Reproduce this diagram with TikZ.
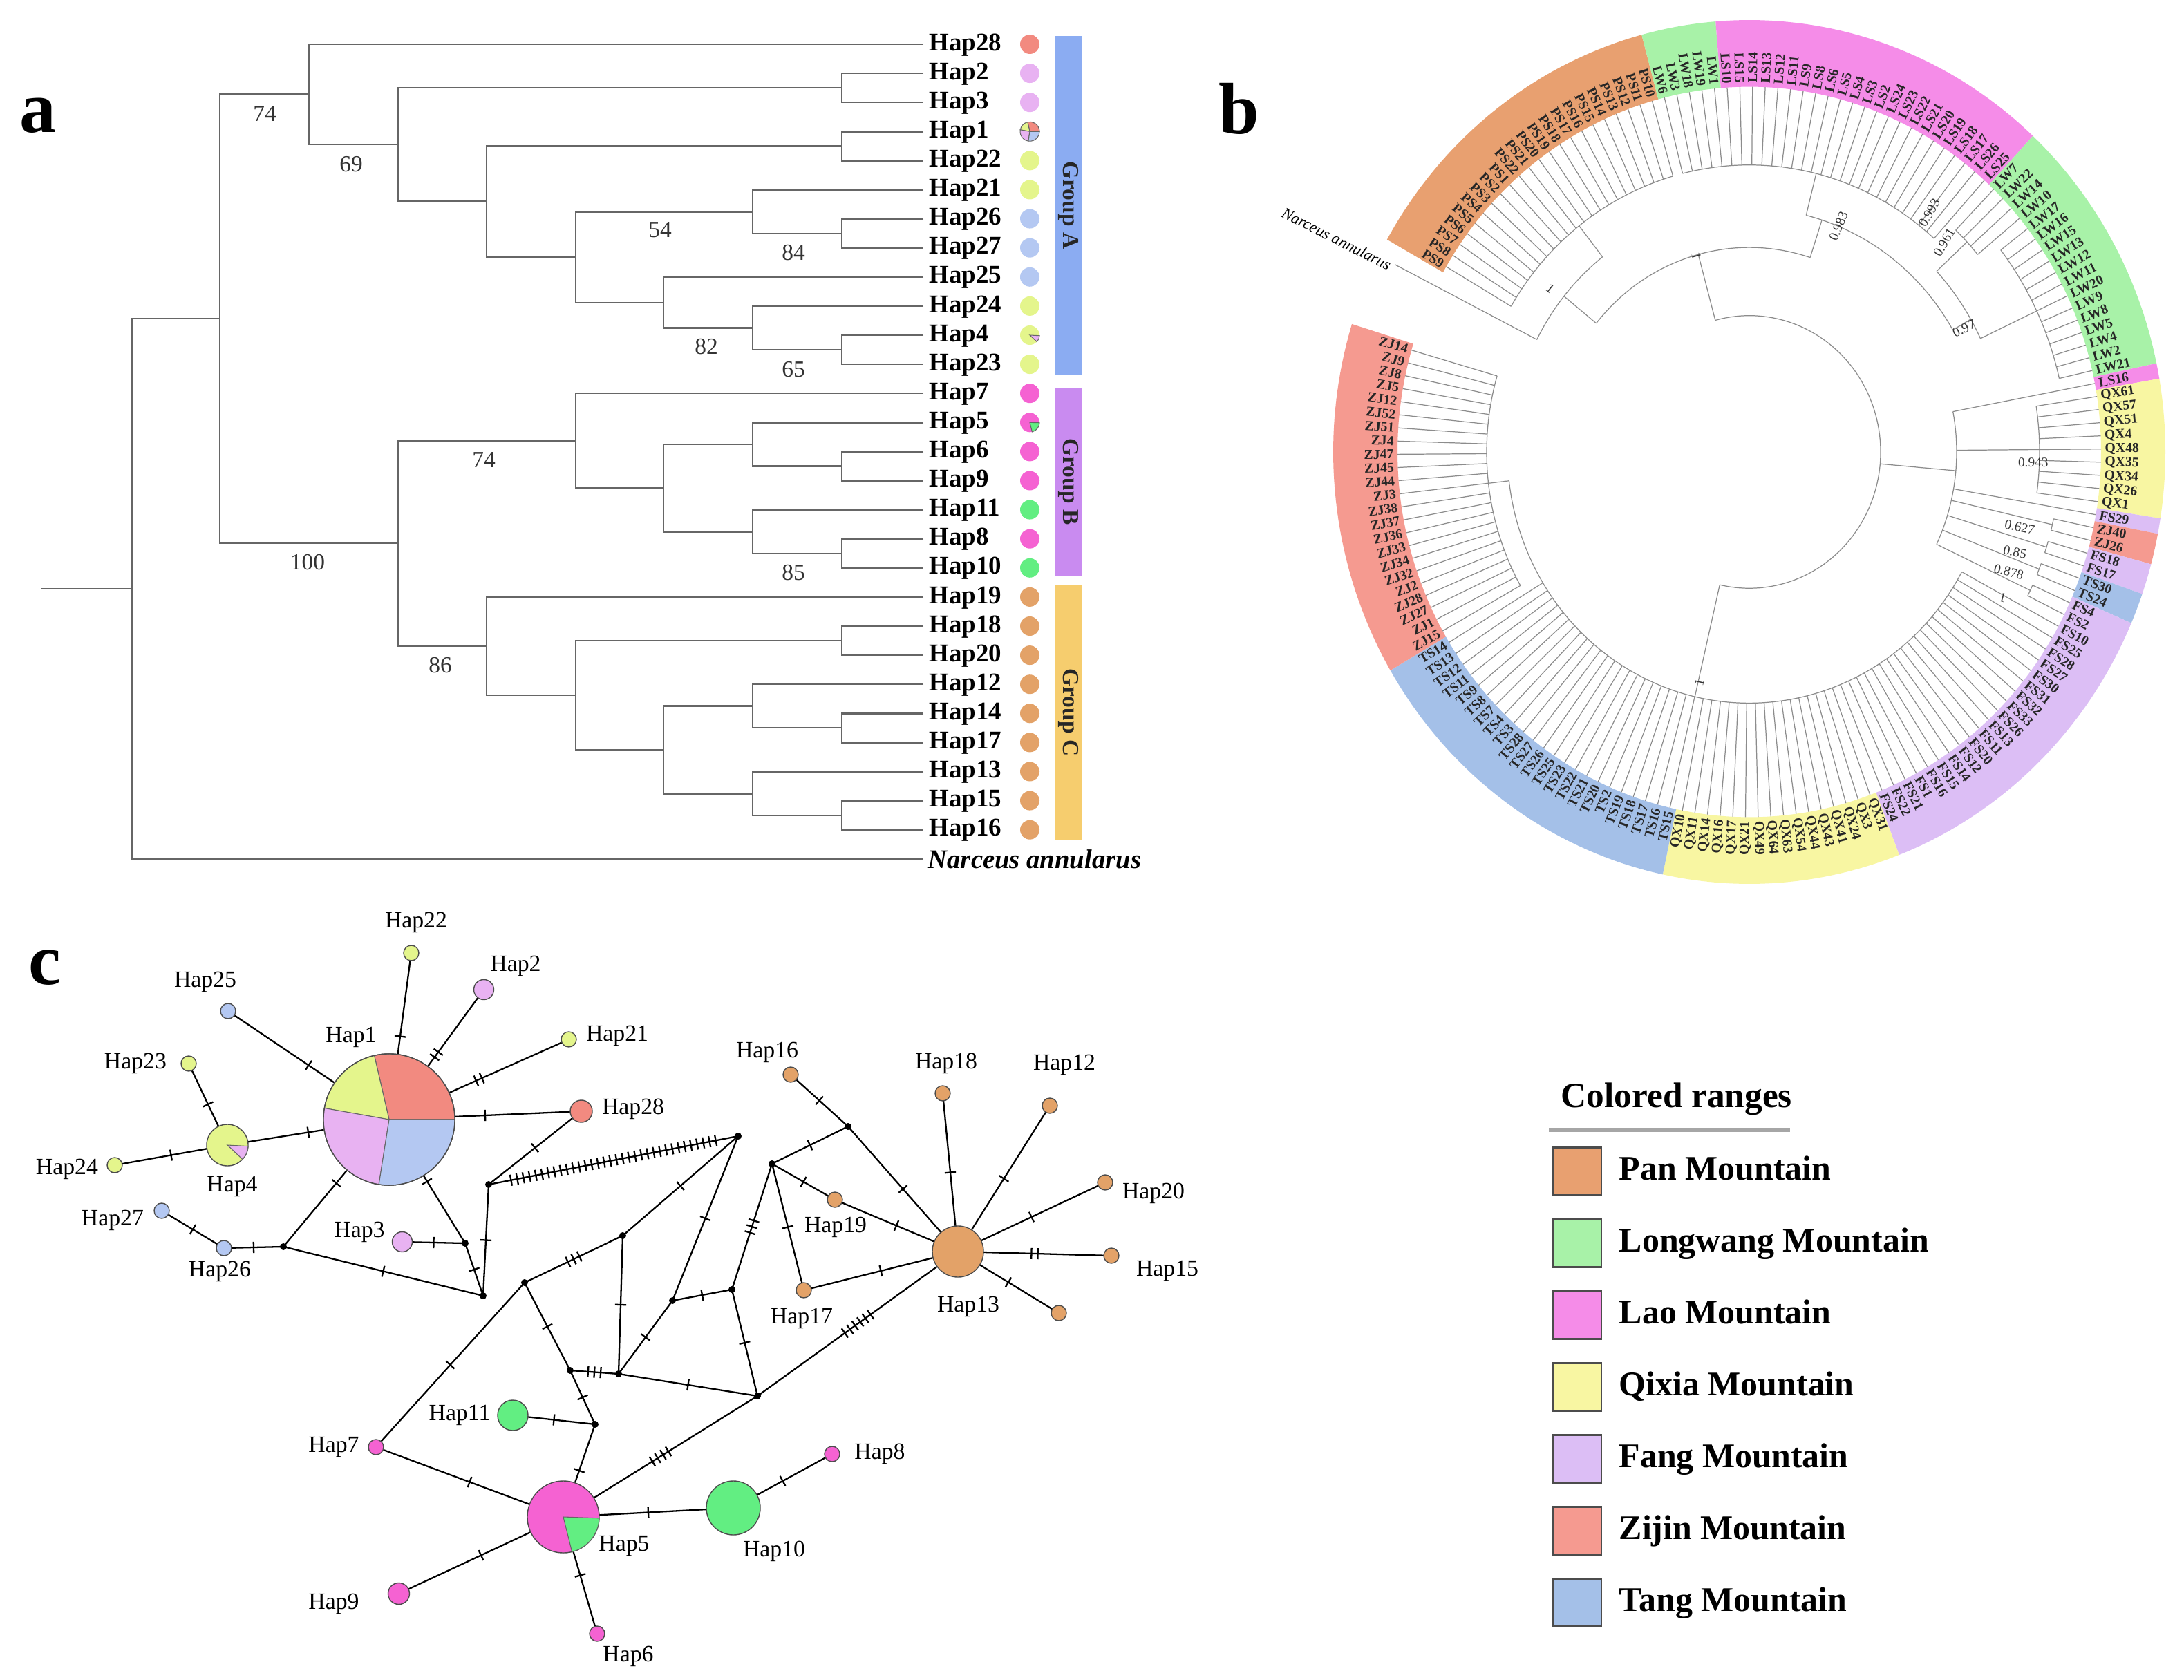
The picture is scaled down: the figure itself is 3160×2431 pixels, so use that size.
\documentclass[tikz,border=0pt]{standalone}
\usepackage{fontspec}
\setmainfont{Liberation Serif}
\usetikzlibrary{calc,backgrounds}

\definecolor{pan}{HTML}{E8A070}
\definecolor{lw}{HTML}{A8F2A8}
\definecolor{lao}{HTML}{F58CE8}
\definecolor{qx}{HTML}{F8F6A2}
\definecolor{fang}{HTML}{DCBEF5}
\definecolor{zj}{HTML}{F59A90}
\definecolor{tang}{HTML}{A4C0E8}
\definecolor{hred}{HTML}{F28A80}
\definecolor{hviol}{HTML}{E8B2F2}
\definecolor{hyel}{HTML}{E4F58C}
\definecolor{hblue}{HTML}{B4C8F2}
\definecolor{hpink}{HTML}{F562D2}
\definecolor{hgreen}{HTML}{62EE82}
\definecolor{horange}{HTML}{E3A268}
\definecolor{grpA}{HTML}{8BACF2}
\definecolor{grpB}{HTML}{C98BF0}
\definecolor{grpC}{HTML}{F6CD6E}

\tikzset{
  branch/.style={draw=black!60, line width=0.7pt},
  leaflab/.style={font=\bfseries\fontsize{10.5}{12}\selectfont, inner sep=0pt, text height=7.5pt, text depth=2.3pt},
  boot/.style={font=\fontsize{9.5}{11}\selectfont, text=black!80, inner sep=0pt},
  tipdot/.style={circle, minimum size=0.28cm, inner sep=0pt},
  grpbar/.style={minimum height=0.39cm, inner sep=0pt, rotate=-90, font=\bfseries\fontsize{9.5}{11}\selectfont, text=black!85},
  bline/.style={draw=black!45, line width=0.35pt},
  ringlab/.style={font=\bfseries\fontsize{5.6}{5.6}\selectfont, inner sep=0pt, text=black!85},
  support/.style={font=\fontsize{5.5}{6}\selectfont, inner sep=0pt, text=black!80},
  hap/.style={circle, draw=black!70, line width=0.4pt, inner sep=0pt, minimum size=0.22cm},
  junc/.style={circle, fill=black, inner sep=0pt, minimum size=0.1cm},
  link/.style={draw=black, line width=0.65pt},
  haplab/.style={font=\fontsize{9.6}{11}\selectfont, inner sep=0pt},
  swatch/.style={draw=black!70, line width=0.6pt, minimum width=0.7cm, minimum height=0.69cm, inner sep=0pt},
  legtext/.style={font=\bfseries\fontsize{14.2}{16}\selectfont, inner sep=0pt, text height=10pt, text depth=3pt},
  panel/.style={font=\bfseries\fontsize{30}{32}\selectfont, inner sep=0pt}
}

% elbow from a tree node to its two children
\newcommand\cladeline[3]{\draw[branch] (#2) -| (#1) |- (#3);}
% ring pieces of the circular tree
\newcommand\ringband[3]{%
  \pgfmathsetmacro\ba{149.5-2.07*#1+1.035}\pgfmathsetmacro\bb{149.5-2.07*#2-1.035}%
  \fill[#3] (\ba:509) arc[start angle=\ba, end angle=\bb, radius=509] -- (\bb:602) arc[start angle=\bb, end angle=\ba, radius=602] -- cycle;}
\newcommand\cladearc[3]{\draw[bline] (#2:#1) arc[start angle=#2, end angle=#3, radius=#1];}
\newcommand\radstem[3]{\draw[bline] (#1:#2) -- (#1:#3);}
% pie pieces
\newcommand\piewedge[5]{\filldraw[fill=#5, draw=black!60, line width=0.3pt] (#1) -- ++(#3:#2) arc[start angle=#3, end angle=#4, radius=#2] -- cycle;}
% network link with mutation ticks
\newcommand\mutlink[3]{%
  \draw[link] (#1.center) -- (#2.center);
  \foreach \m in {1,...,#3}{%
    \pgfmathsetmacro\off{(\m-(#3+1)/2)*2.6}%
    \coordinate (mk) at ($(#1.center)!0.5!(#2.center)$);
    \coordinate (mm) at ($(mk)!\off pt!(#2.center)$);
    \draw[link] ($(mm)!2.3pt!90:(#2.center)$) -- ($(mm)!2.3pt!-90:(#2.center)$);
  }%
}

\begin{document}
\begin{tikzpicture}[x=0.01cm, y=-0.01cm]
\useasboundingbox (0,0) rectangle (3160,2431);
\begin{scope}[on background layer]
  \fill[white] (0,0) rectangle (3160,2431);
\end{scope}

%% ---------------- panel a ----------------
\node[panel] (pa) at (55,167) {a};

\foreach \hname/\hcol [count=\k from 0] in {Hap28/hred, Hap2/hviol, Hap3/hviol, Hap1/white, Hap22/hyel, Hap21/hyel, Hap26/hblue, Hap27/hblue, Hap25/hblue, Hap24/hyel, Hap4/hyel, Hap23/hyel, Hap7/hpink, Hap5/hpink, Hap6/hpink, Hap9/hpink, Hap11/hgreen, Hap8/hpink, Hap10/hgreen, Hap19/horange, Hap18/horange, Hap20/horange, Hap12/horange, Hap14/horange, Hap17/horange, Hap13/horange, Hap15/horange, Hap16/horange}{
  \pgfmathsetmacro\yy{64+42.1*\k}
  \coordinate (t\hname) at (1336,\yy);
  \node[leaflab, anchor=west] (l\hname) at (1344,\yy) {\hname};
  \node[tipdot, fill=\hcol] (d\hname) at (1490,\yy) {};
}
\coordinate (tNarc) at (1336,1243);
\node[anchor=west, inner sep=0pt, font=\bfseries\itshape\fontsize{11}{13}\selectfont] (lNarc) at (1342,1243) {Narceus annularus};

% small pies
\piewedge{dHap1.center}{0.14cm}{0}{103}{hred}
\piewedge{dHap1.center}{0.14cm}{103}{170}{hyel}
\piewedge{dHap1.center}{0.14cm}{170}{261}{hviol}
\piewedge{dHap1.center}{0.14cm}{261}{360}{hblue}
\piewedge{dHap4.center}{0.14cm}{-43}{-3}{hviol}
\piewedge{dHap5.center}{0.14cm}{-76}{-2}{hgreen}

% internal nodes
\coordinate (a23) at (1218,127);
\coordinate (a122) at (1218,211);
\coordinate (a2627) at (1218,338);
\coordinate (a21) at (1089,306.5);
\coordinate (a423) at (1218,506);
\coordinate (a24) at (1089,474.5);
\coordinate (a25) at (960,437.75);
\coordinate (a54) at (833,372);
\coordinate (a1) at (704,291.5);
\coordinate (a69) at (576,209.25);
\coordinate (a74) at (447,136.6);
\coordinate (b69) at (1218,674.5);
\coordinate (b5) at (1089,642.75);
\coordinate (b810) at (1218,801);
\coordinate (b11) at (1089,769.5);
\coordinate (b2) at (960,706);
\coordinate (b74) at (833,637.5);
\coordinate (c1820) at (1218,927);
\coordinate (c1417) at (1218,1053);
\coordinate (c12) at (1089,1021.5);
\coordinate (c1516) at (1218,1180);
\coordinate (c13) at (1089,1148.5);
\coordinate (c3) at (960,1085);
\coordinate (c2) at (833,1006);
\coordinate (c86) at (704,935);
\coordinate (bc) at (576,786);
\coordinate (ing) at (318,461);
\coordinate (root) at (191,852);
\coordinate (rootin) at (60,852);

\cladeline{a23}{tHap2}{tHap3}
\cladeline{a122}{tHap1}{tHap22}
\cladeline{a2627}{tHap26}{tHap27}
\cladeline{a21}{tHap21}{a2627}
\cladeline{a423}{tHap4}{tHap23}
\cladeline{a24}{tHap24}{a423}
\cladeline{a25}{tHap25}{a24}
\cladeline{a54}{a21}{a25}
\cladeline{a1}{a122}{a54}
\cladeline{a69}{a23}{a1}
\cladeline{a74}{tHap28}{a69}
\cladeline{b69}{tHap6}{tHap9}
\cladeline{b5}{tHap5}{b69}
\cladeline{b810}{tHap8}{tHap10}
\cladeline{b11}{tHap11}{b810}
\cladeline{b2}{b5}{b11}
\cladeline{b74}{tHap7}{b2}
\cladeline{c1820}{tHap18}{tHap20}
\cladeline{c1417}{tHap14}{tHap17}
\cladeline{c12}{tHap12}{c1417}
\cladeline{c1516}{tHap15}{tHap16}
\cladeline{c13}{tHap13}{c1516}
\cladeline{c3}{c12}{c13}
\cladeline{c2}{c1820}{c3}
\cladeline{c86}{tHap19}{c2}
\cladeline{bc}{b74}{c86}
\cladeline{ing}{a74}{bc}
\cladeline{root}{ing}{tNarc}
\draw[branch] (rootin) -- (root);

% bootstrap values
\node[boot] (s74a) at (383,165) {74};
\node[boot] (s69) at (508,238) {69};
\node[boot] (s54) at (955,333) {54};
\node[boot] (s84) at (1148,366) {84};
\node[boot] (s82) at (1022,502) {82};
\node[boot] (s65) at (1148,535) {65};
\node[boot] (s74b) at (700,666) {74};
\node[boot] (s85) at (1148,829) {85};
\node[boot] (s100) at (445,814) {100};
\node[boot] (s86) at (637,963) {86};

% group bars
\node[grpbar, fill=grpA, minimum width=4.9cm] (gA) at (1546,297) {Group A};
\node[grpbar, fill=grpB, minimum width=2.72cm] (gB) at (1546,697) {Group B};
\node[grpbar, fill=grpC, minimum width=3.69cm] (gC) at (1546,1031) {Group C};

%% ---------------- panel b ----------------
\node[panel] (pb) at (1793,157) {b};
\begin{scope}[shift={(2531,654)}, x=0.01cm, y=0.01038cm]
  \ringband{0}{21}{pan}
  \ringband{22}{26}{lw}
  \ringband{27}{49}{lao}
  \ringband{50}{66}{lw}
  \ringband{67}{67}{lao}
  \ringband{68}{76}{qx}
  \ringband{77}{77}{fang}
  \ringband{78}{79}{zj}
  \ringband{80}{81}{fang}
  \ringband{82}{83}{tang}
  \ringband{84}{105}{fang}
  \ringband{106}{121}{qx}
  \ringband{122}{144}{tang}
  \ringband{145}{167}{zj}

  % backbone
  \cladearc{190}{105}{-103}
  \radstem{105}{190}{285}
  \cladearc{285}{141}{72}
  \radstem{141}{285}{345}
  \cladearc{345}{153}{128}
  \radstem{153}{345}{575}
  \radstem{128}{345}{400}
  \cladearc{400}{149.5}{106.03}
  \radstem{72}{285}{340}
  \cladearc{340}{76}{30}
  \radstem{76}{340}{400}
  \cladearc{400}{103.96}{48.07}
  \radstem{30}{340}{370}
  \cladearc{370}{42.9}{25.3}
  \radstem{42.9}{370}{430}
  \cladearc{430}{46}{39.79}
  \radstem{25.3}{370}{460}
  \cladearc{460}{37.72}{12.88}
  \radstem{-5}{190}{300}
  \cladearc{300}{10.81}{-25.4}
  \radstem{0.46}{300}{420}
  \cladearc{420}{8.74}{-7.82}
  \foreach \pa in {-13,-17.14,-21.28,-25.4}{
    \radstem{\pa}{300}{450}
    \cladearc{450}{\pa+1.035}{\pa-1.035}
  }
  \radstem{-103}{190}{350}
  \cladearc{350}{-28.52}{-173.4}
  \radstem{-173.4}{350}{380}
  \cladearc{380}{-150.65}{-196.19}

  % leaves
  \foreach \lab/\rin [count=\i from 0] in {PS9/400, PS8/400, PS7/400, PS6/400, PS5/400, PS4/400, PS3/400, PS2/400, PS1/400, PS22/400, PS21/400, PS20/400, PS19/400, PS18/400, PS17/400, PS16/400, PS15/400, PS14/400, PS13/400, PS12/400, PS11/400, PS10/400,
    LW6/400, LW3/400, LW18/400, LW19/400, LW1/400,
    LS10/400, LS15/400, LS14/400, LS13/400, LS12/400, LS11/400, LS9/400, LS8/400, LS6/400, LS5/400, LS4/400, LS3/400, LS2/400, LS24/400, LS23/400, LS22/400, LS21/400, LS20/400, LS19/400, LS18/400, LS17/400, LS26/400, LS25/400,
    LW7/430, LW22/430, LW14/430, LW10/430,
    LW17/460, LW16/460, LW15/460, LW13/460, LW12/460, LW11/460, LW20/460, LW9/460, LW8/460, LW5/460, LW4/460, LW2/460, LW21/460,
    LS16/300,
    QX61/420, QX57/420, QX51/420, QX4/420, QX48/420, QX35/420, QX34/420, QX26/420, QX1/420,
    FS29/300,
    ZJ40/450, ZJ26/450, FS18/450, FS17/450, TS30/450, TS24/450, FS4/450, FS2/450,
    FS10/350, FS25/350, FS28/350, FS27/350, FS30/350, FS31/350, FS32/350, FS33/350, FS26/350, FS13/350, FS11/350, FS20/350, FS12/350, FS14/350, FS15/350, FS16/350, FS1/350, FS21/350, FS22/350, FS24/350,
    QX31/350, QX3/350, QX24/350, QX41/350, QX43/350, QX44/350, QX54/350, QX63/350, QX64/350, QX49/350, QX21/350, QX17/350, QX16/350, QX14/350, QX11/350, QX10/350,
    TS15/350, TS16/350, TS17/350, TS18/350, TS19/350, TS2/350, TS20/350, TS21/350, TS22/350, TS23/350, TS25/350, TS26/350, TS27/350, TS28/350, TS3/350, TS4/350, TS7/350, TS8/350, TS9/350, TS11/350, TS12/350, TS13/350, TS14/350,
    ZJ15/380, ZJ1/380, ZJ27/380, ZJ28/380, ZJ2/380, ZJ32/380, ZJ34/380, ZJ33/380, ZJ36/380, ZJ37/380, ZJ38/380, ZJ3/380, ZJ44/380, ZJ45/380, ZJ47/380, ZJ4/380, ZJ51/380, ZJ52/380, ZJ12/380, ZJ5/380, ZJ8/380, ZJ9/380, ZJ14/380}{
    \pgfmathsetmacro\ang{149.5-2.07*\i}
    \pgfmathtruncatemacro\flip{cos(\ang)<0}
    \draw[bline] (\ang:\rin) -- (\ang:509);
    \ifnum\flip=1
      \node[ringlab, rotate=\ang+180, anchor=east] (rl\i) at (\ang:514) {\lab};
    \else
      \node[ringlab, rotate=\ang, anchor=west] (rl\i) at (\ang:514) {\lab};
    \fi
  }
  \node[anchor=east, rotate=-27, inner sep=0pt, font=\itshape\fontsize{6.5}{7}\selectfont] (bNarc) at (153.5:580) {Narceus annularus};

  % support values
  \node[support, rotate=-38.3] (v1a) at (141.7:367) {1};
  \node[support, rotate=-74.4] (v1b) at (105.6:284) {1};
  \node[support, rotate=67.7] (v983) at (67.7:340) {0.983};
  \node[support, rotate=60] (v993) at (52:423) {0.993};
  \node[support, rotate=60] (v961) at (46:406) {0.961};
  \node[support, rotate=25] (v97) at (29:355) {0.97};
  \node[support] (v943) at (-2:411) {0.943};
  \node[support, rotate=-12] (v627) at (-15:405) {0.627};
  \node[support, rotate=-12] (v85) at (-20:409) {0.85};
  \node[support, rotate=-14] (v878) at (-24:411) {0.878};
  \node[support, rotate=-16] (v1c) at (-29:419) {1};
  \node[support, rotate=77.3] (v1d) at (-102.7:329) {1};
\end{scope}

%% ---------------- panel c ----------------
\node[panel] (pc) at (65,1400) {c};

\node[hap, minimum size=1.9cm] (Hap1) at (563,1620) {};
\node[hap, fill=hyel] (Hap22) at (595,1379) {};
\node[hap, fill=hviol, minimum size=0.29cm] (Hap2) at (700,1432) {};
\node[hap, fill=hblue] (Hap25) at (330,1463) {};
\node[hap, fill=hyel] (Hap21) at (823,1504) {};
\node[hap, fill=hred, minimum size=0.32cm] (Hap28) at (841,1608) {};
\node[hap, fill=hyel] (Hap23) at (273,1539) {};
\node[hap, fill=hyel, minimum size=0.6cm] (Hap4) at (329,1657) {};
\node[hap, fill=hyel] (Hap24) at (166,1686) {};
\node[hap, fill=hblue] (Hap27) at (234,1752) {};
\node[hap, fill=hblue] (Hap26) at (324,1806) {};
\node[hap, fill=hviol, minimum size=0.29cm] (Hap3) at (582,1797) {};
\node[hap, fill=hgreen, minimum size=0.44cm] (Hap11) at (742,2048) {};
\node[hap, fill=hpink] (Hap7) at (544,2094) {};
\node[hap, fill=hpink, minimum size=1.04cm] (Hap5) at (815,2195) {};
\node[hap, fill=hpink, minimum size=0.31cm] (Hap9) at (577,2306) {};
\node[hap, fill=hpink] (Hap6) at (864,2364) {};
\node[hap, fill=horange] (Hap16) at (1144,1555) {};
\node[hap, fill=horange] (Hap19) at (1208,1736) {};
\node[hap, fill=horange] (Hap17) at (1163,1867) {};
\node[hap, fill=horange, minimum size=0.74cm] (Hap13) at (1386,1811) {};
\node[hap, fill=horange] (Hap18) at (1364,1582) {};
\node[hap, fill=horange] (Hap12) at (1519,1600) {};
\node[hap, fill=horange] (Hap20) at (1599,1711) {};
\node[hap, fill=horange] (Hap15) at (1608,1817) {};
\node[hap, fill=horange] (Hapx) at (1532,1900) {};
\node[hap, fill=hgreen, minimum size=0.78cm] (Hap10) at (1061,2182) {};
\node[hap, fill=hpink] (Hap8) at (1204,2104) {};

\node[junc] (J1) at (410,1804) {};
\node[junc] (J2) at (673,1799) {};
\node[junc] (J3) at (699,1875) {};
\node[junc] (J4) at (707,1714) {};
\node[junc] (J5) at (1068,1644) {};
\node[junc] (J6) at (901,1788) {};
\node[junc] (J7) at (759,1856) {};
\node[junc] (J8) at (825,1983) {};
\node[junc] (J9) at (895,1988) {};
\node[junc] (J10) at (973,1882) {};
\node[junc] (J11) at (861,2061) {};
\node[junc] (J12) at (1227,1630) {};
\node[junc] (J13) at (1117,1684) {};
\node[junc] (J15) at (1059,1866) {};
\node[junc] (J16) at (1096,2020) {};

% pies
\piewedge{Hap1.center}{0.95cm}{0}{103}{hred}
\piewedge{Hap1.center}{0.95cm}{103}{170}{hyel}
\piewedge{Hap1.center}{0.95cm}{170}{261}{hviol}
\piewedge{Hap1.center}{0.95cm}{261}{360}{hblue}
\draw[draw=black!70, line width=0.4pt] (Hap1.center) circle[radius=0.95cm];
\piewedge{Hap4.center}{0.3cm}{-43}{-3}{hviol}
\piewedge{Hap5.center}{0.52cm}{-76}{-2}{hgreen}

% haplotype names
\node[haplab] (n1) at (508,1501) {Hap1};
\node[haplab] (n22) at (602,1335) {Hap22};
\node[haplab] (n2) at (746,1398) {Hap2};
\node[haplab] (n25) at (297,1421) {Hap25};
\node[haplab] (n21) at (893,1499) {Hap21};
\node[haplab] (n28) at (916,1605) {Hap28};
\node[haplab] (n23) at (196,1539) {Hap23};
\node[haplab] (n4) at (336,1717) {Hap4};
\node[haplab] (n24) at (97,1692) {Hap24};
\node[haplab] (n27) at (163,1766) {Hap27};
\node[haplab] (n26) at (318,1840) {Hap26};
\node[haplab] (n3) at (520,1783) {Hap3};
\node[haplab] (n11) at (665,2048) {Hap11};
\node[haplab] (n7) at (483,2094) {Hap7};
\node[haplab] (n5) at (903,2237) {Hap5};
\node[haplab] (n9) at (483,2321) {Hap9};
\node[haplab] (n6) at (909,2397) {Hap6};
\node[haplab] (n16) at (1110,1523) {Hap16};
\node[haplab] (n19) at (1209,1776) {Hap19};
\node[haplab] (n17) at (1160,1908) {Hap17};
\node[haplab] (n13) at (1401,1891) {Hap13};
\node[haplab] (n18) at (1369,1539) {Hap18};
\node[haplab] (n12) at (1540,1541) {Hap12};
\node[haplab] (n20) at (1669,1727) {Hap20};
\node[haplab] (n15) at (1689,1839) {Hap15};
\node[haplab] (n10) at (1120,2245) {Hap10};
\node[haplab] (n8) at (1273,2104) {Hap8};

\begin{scope}[on background layer]
  \mutlink{Hap1}{Hap22}{1}
  \mutlink{Hap1}{Hap2}{2}
  \mutlink{Hap1}{Hap21}{2}
  \mutlink{Hap1}{Hap28}{1}
  \mutlink{Hap1}{Hap25}{1}
  \mutlink{Hap1}{Hap4}{1}
  \mutlink{Hap4}{Hap23}{1}
  \mutlink{Hap4}{Hap24}{1}
  \mutlink{Hap1}{J1}{1}
  \mutlink{J1}{Hap26}{1}
  \mutlink{Hap26}{Hap27}{1}
  \mutlink{J1}{J3}{1}
  \mutlink{Hap1}{J2}{1}
  \mutlink{Hap3}{J2}{1}
  \mutlink{J2}{J3}{1}
  \mutlink{J3}{J4}{1}
  \mutlink{J4}{Hap28}{1}
  \mutlink{J4}{J5}{34}
  \mutlink{J5}{J6}{1}
  \mutlink{J5}{J10}{1}
  \mutlink{J6}{J7}{3}
  \mutlink{J6}{J9}{1}
  \mutlink{J7}{Hap7}{1}
  \mutlink{J7}{J8}{1}
  \mutlink{J8}{J9}{3}
  \mutlink{J8}{J11}{1}
  \mutlink{J9}{J10}{1}
  \mutlink{J9}{J16}{1}
  \mutlink{J10}{J15}{1}
  \mutlink{J15}{J13}{3}
  \mutlink{J15}{J16}{1}
  \mutlink{J16}{Hap13}{6}
  \mutlink{J16}{Hap5}{4}
  \mutlink{J11}{Hap11}{1}
  \mutlink{J11}{Hap5}{1}
  \mutlink{Hap5}{Hap7}{1}
  \mutlink{Hap5}{Hap9}{1}
  \mutlink{Hap5}{Hap6}{1}
  \mutlink{Hap5}{Hap10}{1}
  \mutlink{Hap10}{Hap8}{1}
  \mutlink{J13}{J12}{1}
  \mutlink{J13}{Hap19}{1}
  \mutlink{J13}{Hap17}{1}
  \mutlink{J12}{Hap16}{1}
  \mutlink{J12}{Hap13}{1}
  \mutlink{Hap19}{Hap13}{1}
  \mutlink{Hap17}{Hap13}{1}
  \mutlink{Hap13}{Hap18}{1}
  \mutlink{Hap13}{Hap12}{1}
  \mutlink{Hap13}{Hap20}{1}
  \mutlink{Hap13}{Hap15}{2}
  \mutlink{Hap13}{Hapx}{1}
\end{scope}

%% ---------------- legend ----------------
\node[legtext, font=\bfseries\fontsize{14.6}{16}\selectfont, anchor=west] (legTitle) at (2258,1590) {Colored ranges};
\draw[draw=black!35, line width=1.6pt] (2241,1635) -- (2590,1635);
\foreach \nm/\col [count=\k from 0] in {Pan/pan, Longwang/lw, Lao/lao, Qixia/qx, Fang/fang, Zijin/zj, Tang/tang}{
  \pgfmathsetmacro\yy{1695+104*\k}
  \node[swatch, fill=\col] (sw\nm) at (2282,\yy) {};
  \node[legtext, anchor=west] (lg\nm) at (2342,\yy) {\nm\ Mountain};
}
\end{tikzpicture}
\end{document}
